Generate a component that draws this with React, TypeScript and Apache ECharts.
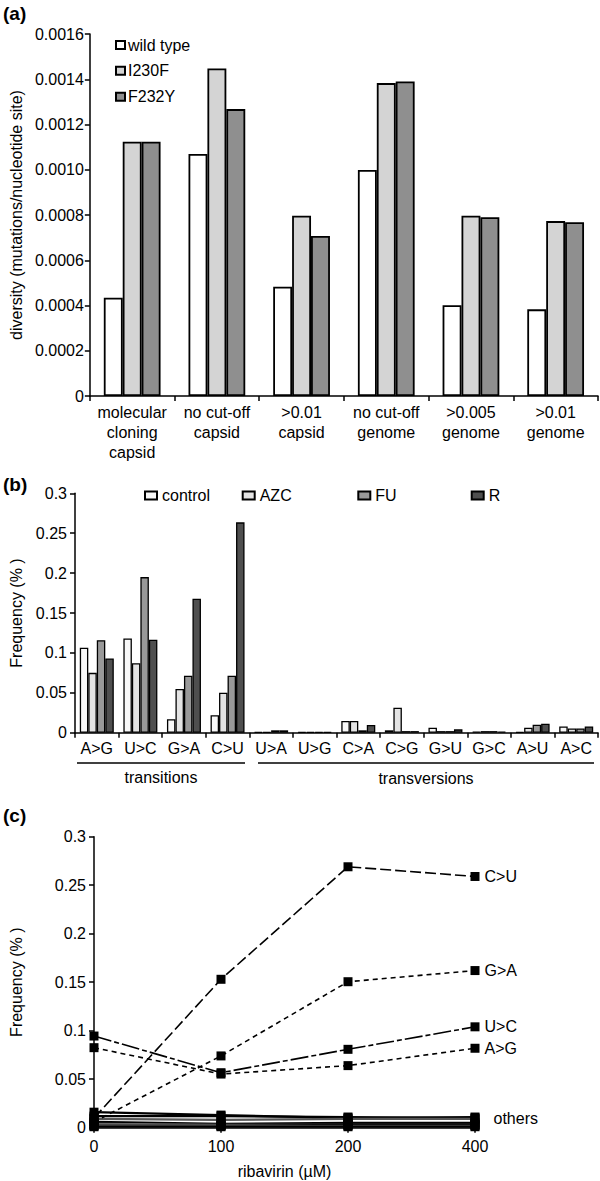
import React, { useEffect, useRef } from "react";
import * as echarts from "echarts";

// ---------- Panel (a) ----------
const categoriesA = [
  "molecular\ncloning\ncapsid",
  "no cut-off\ncapsid",
  ">0.01\ncapsid",
  "no cut-off\ngenome",
  ">0.005\ngenome",
  ">0.01\ngenome",
];
const wildType = [0.000434, 0.00107, 0.000483, 0.000999, 0.000401, 0.000383];
const i230f = [0.001124, 0.001448, 0.000797, 0.001383, 0.000797, 0.000773];
const f232y = [0.001124, 0.001268, 0.000707, 0.00139, 0.00079, 0.000768];
const yMaxA = 0.0016;
const yStepA = 0.0002;

// ---------- Panel (b) ----------
const categoriesB = ["A>G", "U>C", "G>A", "C>U", "U>A", "U>G", "C>A", "C>G", "G>U", "G>C", "A>U", "A>C"];
const control = [0.1065, 0.118, 0.017, 0.022, 0.001, 0.001, 0.0146, 0.003, 0.0063, 0.0015, 0.001, 0.0079];
const azc = [0.075, 0.087, 0.0548, 0.05, 0.001, 0.001, 0.0146, 0.0313, 0.002, 0.002, 0.0063, 0.0054];
const fu = [0.116, 0.195, 0.0714, 0.0714, 0.003, 0.001, 0.003, 0.002, 0.002, 0.002, 0.01, 0.0054];
const rib = [0.093, 0.1165, 0.168, 0.2636, 0.003, 0.001, 0.0096, 0.002, 0.0042, 0.0015, 0.0113, 0.0079];
const yMaxB = 0.3;
const yStepB = 0.05;
const groupLabelsB = ["transitions", "transversions"];

// ---------- Panel (c) ----------
const doses = ["0", "100", "200", "400"];
const cuLine = [0.01, 0.153, 0.269, 0.259];
const gaLine = [0.006, 0.074, 0.1505, 0.162];
const ucLine = [0.0945, 0.0567, 0.0808, 0.104];
const agLine = [0.0825, 0.0553, 0.064, 0.0819];
const othersNames = ["C>A", "A>U", "A>C", "G>U", "C>G", "U>A", "G>C", "U>G"];
const othersValues = [
  [0.016, 0.013, 0.01, 0.011],
  [0.012, 0.012, 0.011, 0.01],
  [0.009, 0.008, 0.009, 0.009],
  [0.006, 0.004, 0.005, 0.005],
  [0.004, 0.003, 0.003, 0.003],
  [0.002, 0.002, 0.003, 0.003],
  [0.002, 0.002, 0.002, 0.002],
  [0.001, 0.001, 0.001, 0.001],
];
const othersColors = ["#000", "#000", "#555", "#000", "#666", "#000", "#444", "#000"];
const yMaxC = 0.3;
const yStepC = 0.05;

const FONT = "Liberation Sans, Arial, sans-serif";
const FS = 16;

function labelLast(values: number[], text: string, extra: any = {}) {
  return values.map((v, i) =>
    i === values.length - 1
      ? {
          value: v,
          label: {
            show: true,
            position: "right",
            distance: 5,
            formatter: text,
            color: "#000",
            fontSize: FS,
            fontFamily: FONT,
            ...extra,
          },
        }
      : v
  );
}

export default function App() {
  const ref = useRef<HTMLDivElement>(null);

  useEffect(() => {
    document.body.style.margin = "0";
    if (!ref.current) return;
    const chart = echarts.init(ref.current, undefined, { renderer: "svg" });

    const axisLine = { show: true, lineStyle: { color: "#000", width: 1.5 } };
    const axisTick = { show: true, inside: false, length: 5, lineStyle: { color: "#000", width: 1.5 } };
    const labelStyle = { color: "#000", fontSize: FS, fontFamily: FONT };
    const nameStyle = { color: "#000", fontSize: FS, fontFamily: FONT };

    const barA = (name: string, data: number[], color: string) => ({
      name,
      type: "bar",
      xAxisIndex: 0,
      yAxisIndex: 0,
      data,
      barGap: "0%",
      barCategoryGap: "33%",
      itemStyle: { color, borderColor: "#000", borderWidth: 1.8 },
    });
    const barB = (name: string, data: number[], color: string) => ({
      name,
      type: "bar",
      xAxisIndex: 1,
      yAxisIndex: 1,
      data,
      barGap: "0%",
      barCategoryGap: "22%",
      itemStyle: { color, borderColor: "#000", borderWidth: 1.3 },
    });
    const lineC = (name: string, data: any[], dash: any) => ({
      name,
      type: "line",
      xAxisIndex: 2,
      yAxisIndex: 2,
      data,
      symbol: "rect",
      symbolSize: 9,
      itemStyle: { color: "#000" },
      lineStyle: { color: "#000", width: 1.6, type: dash },
      z: 5,
    });

    const legendItem = (name: string, left: number, top: number, w: number, h: number, pad: number) => ({
      data: [name],
      left,
      top,
      orient: "horizontal",
      icon: "rect",
      itemWidth: w,
      itemHeight: h,
      itemGap: 0,
      padding: 0,
      textStyle: { color: "#000", fontSize: FS, fontFamily: FONT, lineHeight: 16, padding: [0, 0, 0, pad] },
      selectedMode: false,
    });

    const option: any = {
      animation: false,
      backgroundColor: "#fff",
      grid: [
        { left: 86, top: 34, width: 512, height: 362 },
        { left: 72, top: 493.3, width: 526, height: 239.4 },
        { left: 90, top: 836.7, width: 385, height: 291 },
      ],
      legend: [
        legendItem("wild type", 115, 37, 9, 8, -2),
        legendItem("I230F", 115, 62.8, 9, 8, -2),
        legendItem("F232Y", 115, 88.7, 9, 8, -2),
        legendItem("control", 144, 487.5, 12, 8, 0),
        legendItem("AZC", 241.7, 487.5, 12, 8, 0),
        legendItem("FU", 357.3, 487.5, 12, 8, 0),
        legendItem("R", 470.7, 487.5, 12, 8, 0),
      ],
      xAxis: [
        {
          type: "category",
          gridIndex: 0,
          data: categoriesA,
          axisLine,
          axisTick,
          axisLabel: { ...labelStyle, interval: 0, margin: 6, lineHeight: 20 },
        },
        {
          type: "category",
          gridIndex: 1,
          data: categoriesB,
          axisLine,
          axisTick,
          axisLabel: { ...labelStyle, interval: 0, margin: 8 },
        },
        {
          type: "category",
          gridIndex: 2,
          data: doses,
          boundaryGap: false,
          axisLine,
          axisTick: { ...axisTick, alignWithLabel: true },
          axisLabel: { ...labelStyle, interval: 0, margin: 11 },
          name: "ribavirin (µM)",
          nameLocation: "middle",
          nameGap: 36,
          nameTextStyle: nameStyle,
        },
      ],
      yAxis: [
        {
          type: "value",
          gridIndex: 0,
          min: 0,
          max: yMaxA,
          interval: yStepA,
          axisLine,
          axisTick,
          splitLine: { show: false },
          axisLabel: {
            ...labelStyle,
            margin: 6,
            formatter: (v: number) => (v === 0 ? "0" : v.toFixed(4)),
          },
          name: "diversity (mutations/nucleotide site)",
          nameLocation: "middle",
          nameGap: 64,
          nameTextStyle: nameStyle,
        },
        {
          type: "value",
          gridIndex: 1,
          min: 0,
          max: yMaxB,
          interval: yStepB,
          axisLine,
          axisTick,
          splitLine: { show: false },
          axisLabel: { ...labelStyle, margin: 8 },
          name: "Frequency (% )",
          nameLocation: "middle",
          nameGap: 51,
          nameTextStyle: nameStyle,
        },
        {
          type: "value",
          gridIndex: 2,
          min: 0,
          max: yMaxC,
          interval: yStepC,
          axisLine,
          axisTick,
          splitLine: { show: false },
          axisLabel: { ...labelStyle, margin: 8 },
          name: "Frequency (% )",
          nameLocation: "middle",
          nameGap: 70,
          nameTextStyle: nameStyle,
        },
      ],
      series: [
        barA("wild type", wildType, "#ffffff"),
        barA("I230F", i230f, "#d4d4d4"),
        barA("F232Y", f232y, "#8f8f8f"),
        barB("control", control, "#f8f8f8"),
        barB("AZC", azc, "#e4e4e4"),
        barB("FU", fu, "#999999"),
        barB("R", rib, "#4f4f4f"),
        ...othersValues.map((vals, i) => ({
          name: othersNames[i],
          type: "line",
          xAxisIndex: 2,
          yAxisIndex: 2,
          data: i === 1 ? labelLast(vals, "others", { distance: 14 }) : vals,
          symbol: "rect",
          symbolSize: 9,
          itemStyle: { color: "#000" },
          lineStyle: { color: othersColors[i], width: 2.2 },
          z: 3,
        })),
        lineC("C>U", labelLast(cuLine, "C>U"), [11, 4]),
        lineC("G>A", labelLast(gaLine, "G>A"), [5, 4]),
        lineC("U>C", labelLast(ucLine, "U>C"), [18, 3, 5, 3]),
        lineC("A>G", labelLast(agLine, "A>G"), [5, 4]),
      ],
      graphic: [
        { type: "text", left: 3, top: 4, style: { text: "(a)", fontSize: 19, fontWeight: "bold", fontFamily: FONT, fill: "#000" } },
        { type: "text", left: 3, top: 475, style: { text: "(b)", fontSize: 19, fontWeight: "bold", fontFamily: FONT, fill: "#000" } },
        { type: "text", left: 3, top: 806, style: { text: "(c)", fontSize: 19, fontWeight: "bold", fontFamily: FONT, fill: "#000" } },
        { type: "line", shape: { x1: 77, y1: 763, x2: 245, y2: 763 }, style: { stroke: "#000", lineWidth: 1.3 } },
        { type: "line", shape: { x1: 258, y1: 763, x2: 594, y2: 763 }, style: { stroke: "#000", lineWidth: 1.3 } },
        {
          type: "text",
          x: 161,
          y: 777,
          style: { text: groupLabelsB[0], fontSize: FS, fontFamily: FONT, fill: "#000", align: "center", verticalAlign: "middle" },
        },
        {
          type: "text",
          x: 426,
          y: 778,
          style: { text: groupLabelsB[1], fontSize: FS, fontFamily: FONT, fill: "#000", align: "center", verticalAlign: "middle" },
        },
      ],
    };

    chart.setOption(option);
    return () => chart.dispose();
  }, []);

  return <div ref={ref} style={{ width: 600, height: 1181 }} />;
}
